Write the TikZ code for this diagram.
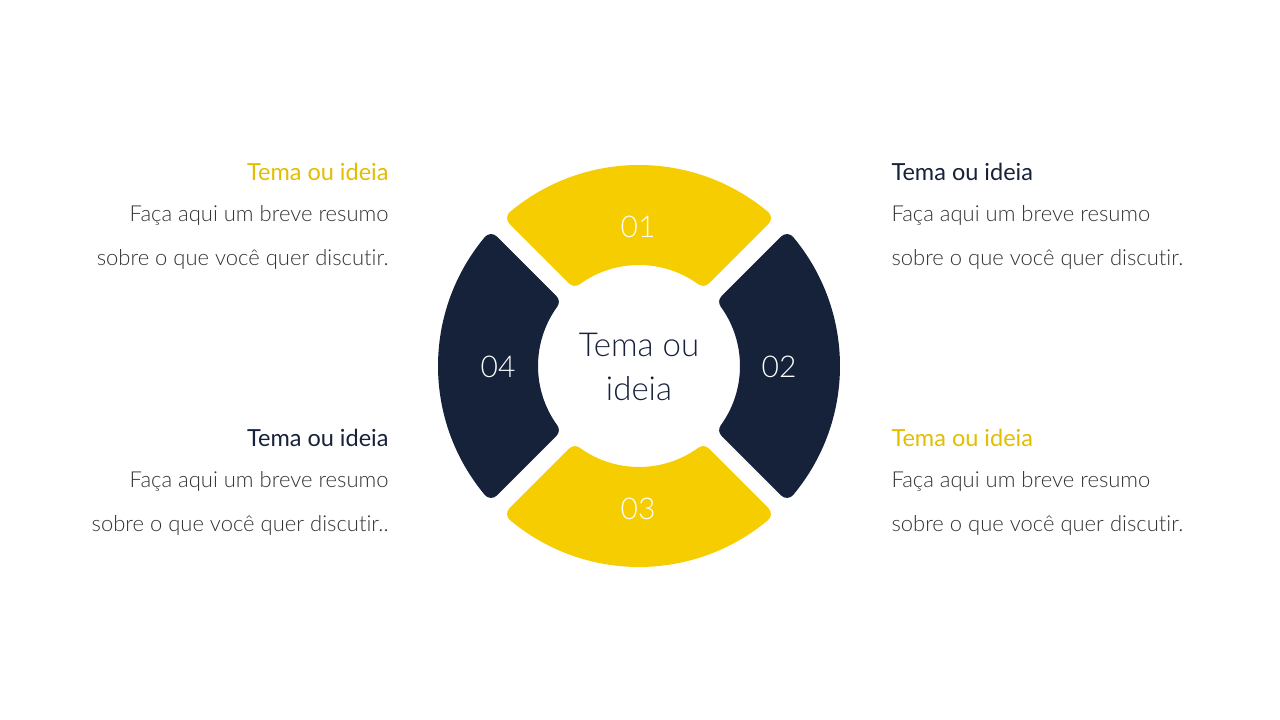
\documentclass[tikz,border=0pt]{standalone}
\usepackage{fontspec}
\setmainfont{Lato}
\newfontfamily\lightf[RawFeature={-liga;-dlig;-clig}]{Lato Light}
\definecolor{yel}{HTML}{F6CD00}
\definecolor{navy}{HTML}{16213A}
\definecolor{txt}{HTML}{333333}
\begin{document}
\begin{tikzpicture}[x=1pt,y=1pt,
  seg/.style={line width=16pt,line join=round},
  num/.style={text=white,font=\fontsize{30}{30}\selectfont\lightf},
  head/.style={font=\fontsize{23.5}{23.5}\selectfont},
  body/.style={text=txt,font=\fontsize{22}{44}\selectfont\lightf,align=#1},
]
\useasboundingbox (0,0) rectangle (1280,720);
\coordinate (c) at (639,354);
\foreach \r/\col in {0/yel,90/navy,180/yel,270/navy}{
  \filldraw[seg,fill=\col,draw=\col,shift={(c)},rotate=\r]
    (50.05:193) arc[start angle=50.05,end angle=129.95,radius=193]
    -- (126.03:109) arc[start angle=126.03,end angle=53.97,radius=109] -- cycle;
}
\node[num] (n1) at (638,493) {01};
\node[num] (n2) at (779,353) {02};
\node[num] (n3) at (638,211) {03};
\node[num] (n4) at (498,353) {04};
\node[text=navy,font=\fontsize{33}{44}\selectfont\lightf,align=center] (ct) at (639,353) {Tema ou\\ideia};
\node[head,text=yel!92!black,anchor=east] (h1) at (392,548) {Tema ou ideia};
\node[body=right,anchor=north east] (b1) at (392,518) {Faça aqui um breve resumo\\sobre o que você quer discutir.};
\node[head,text=navy,anchor=west] (h2) at (888,548) {Tema ou ideia};
\node[body=left,anchor=north west] (b2) at (888,518) {Faça aqui um breve resumo\\sobre o que você quer discutir.};
\node[head,text=navy,anchor=east] (h3) at (392,282) {Tema ou ideia};
\node[body=right,anchor=north east] (b3) at (392,252) {Faça aqui um breve resumo\\sobre o que você quer discutir..};
\node[head,text=yel!92!black,anchor=west] (h4) at (888,282) {Tema ou ideia};
\node[body=left,anchor=north west] (b4) at (888,252) {Faça aqui um breve resumo\\sobre o que você quer discutir.};
\end{tikzpicture}
\end{document}
